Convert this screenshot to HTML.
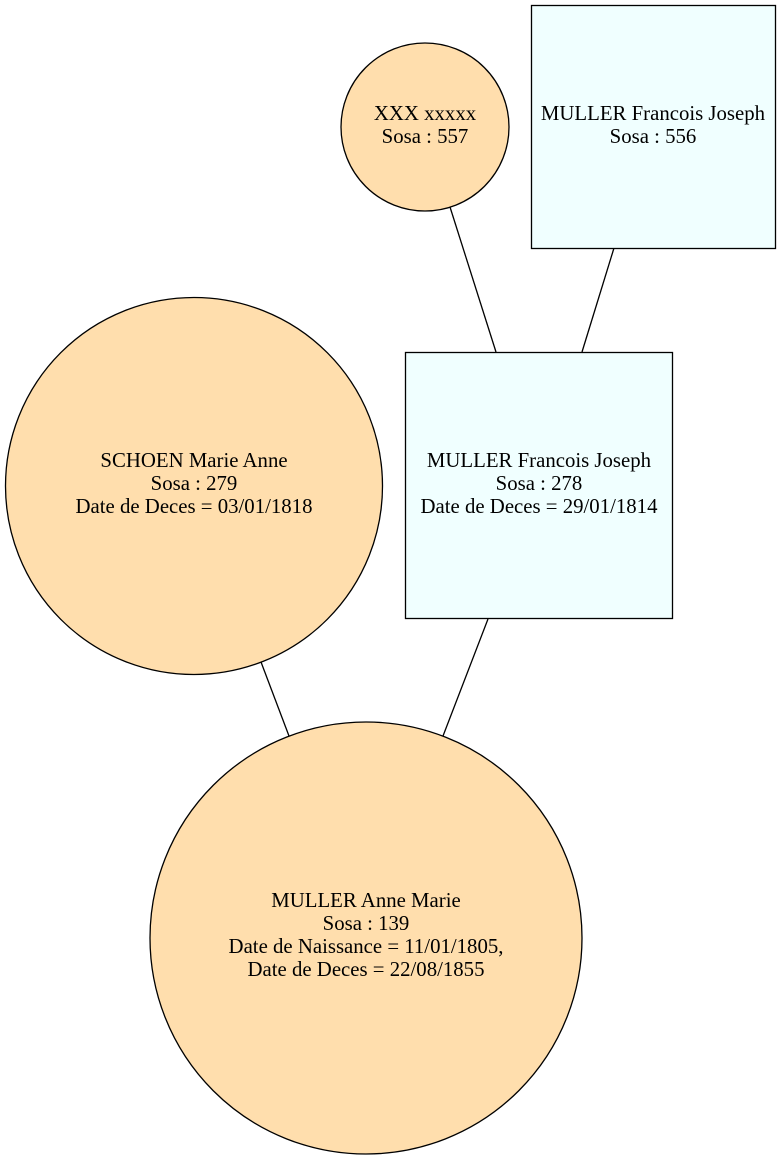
<!DOCTYPE html>
<html><head><meta charset="utf-8"><style>
html,body{margin:0;padding:0;background:#fff;}
svg text{font-family:"Liberation Serif",serif;font-size:20.8px;fill:#000;}
</style></head><body>
<svg width="781" height="1160" viewBox="0 0 781 1160" xmlns="http://www.w3.org/2000/svg">
<g stroke="#000" stroke-width="1.3" fill="none">
<line x1="450" y1="207" x2="496" y2="352"/>
<line x1="614" y1="248" x2="582" y2="352"/>
<line x1="261" y1="662" x2="289" y2="736"/>
<line x1="488" y1="619" x2="443" y2="736"/>
</g>
<g stroke="#000" stroke-width="1.3">
<circle cx="425" cy="127" r="84" fill="#ffdead"/>
<rect x="531.5" y="5.5" width="244" height="243" fill="#f0ffff"/>
<circle cx="194" cy="486" r="188.5" fill="#ffdead"/>
<rect x="405.5" y="352.5" width="267" height="266" fill="#f0ffff"/>
<circle cx="366" cy="938" r="216" fill="#ffdead"/>
</g>
<g text-anchor="middle">
<text x="425" y="120">XXX xxxxx</text>
<text x="425" y="143">Sosa : 557</text>
<text x="653" y="120">MULLER Francois Joseph</text>
<text x="653" y="143">Sosa : 556</text>
<text x="194" y="467">SCHOEN Marie Anne</text>
<text x="194" y="490">Sosa : 279</text>
<text x="194" y="513">Date de Deces = 03/01/1818</text>
<text x="539" y="467">MULLER Francois Joseph</text>
<text x="539" y="490">Sosa : 278</text>
<text x="539" y="513">Date de Deces = 29/01/1814</text>
<text x="366" y="907">MULLER Anne Marie</text>
<text x="366" y="930">Sosa : 139</text>
<text x="366" y="953">Date de Naissance = 11/01/1805,</text>
<text x="366" y="976">Date de Deces = 22/08/1855</text>
</g>
</svg>
</body></html>
